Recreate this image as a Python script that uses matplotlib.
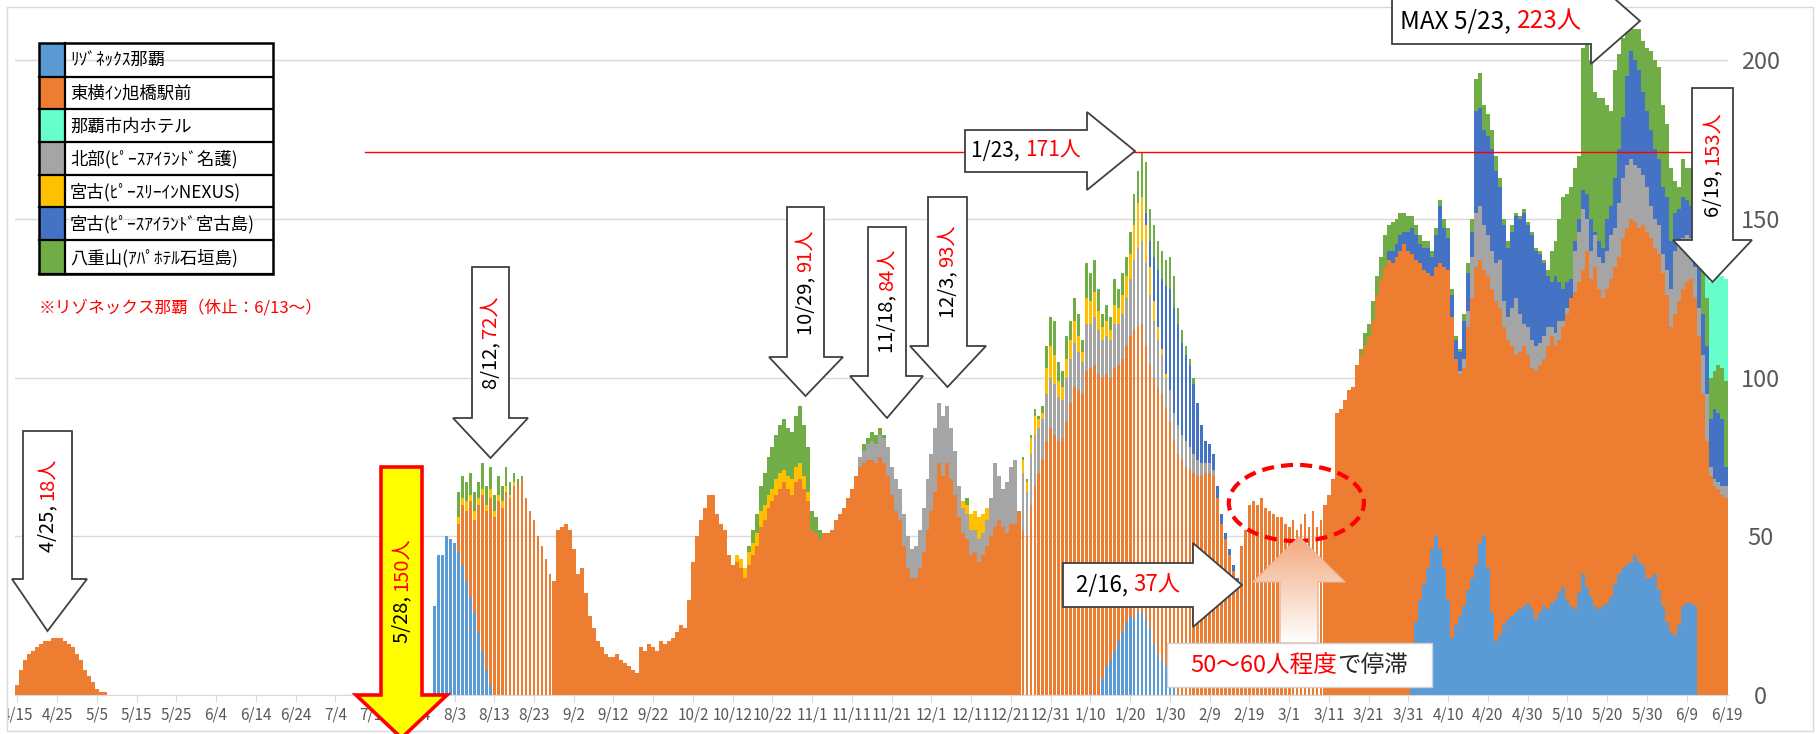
import numpy as np
import pandas as pd
import matplotlib
matplotlib.use("Agg")
import matplotlib.pyplot as plt
from matplotlib.patches import Polygon, Rectangle, Ellipse
from matplotlib.colors import LinearSegmentedColormap

plt.rcParams['font.family'] = ['Noto Sans CJK JP', 'DejaVu Sans']

# 日別 (2020/4/15 ～ 2021/6/19)
dates = pd.date_range("2020-04-15", "2021-06-19", freq="D")

# 各施設: (開始日, 日別の人数)
rizonex = [
    ("2020-07-29", [28, 44, 44, 50, 49, 48, 45, 41, 36, 31, 26, 20, 14, 8, 3]),
    ("2021-01-13", [5, 9, 11, 14, 17, 20, 23, 25, 24, 26, 26, 24, 21, 16, 13, 11, 9, 7, 3]),
    ("2021-04-01", [10, 23, 30, 35, 40, 46, 50, 46, 40, 30, 18, 22, 25, 28, 33, 37, 41, 48, 50, 40,
                    26, 17, 19, 22, 24, 25, 26, 27, 28, 29, 27, 24, 26, 28, 27, 29, 30, 32, 34, 30,
                    28, 27, 32, 38, 34, 31, 28, 27, 28, 29, 31, 35, 38, 40, 41, 42, 44, 42, 41, 37,
                    37, 38, 33, 28, 23, 20, 19, 22, 28, 29, 29, 28]),
]
toyoko = [
    ("2020-04-15", [3, 8, 11, 13, 14, 15, 16, 17, 17, 18, 18, 18, 17, 16, 15, 13, 11, 8, 6, 4, 2, 1, 1]),
    ("2020-08-04", [9, 19, 22, 30, 29, 40, 49, 50, 59, 56, 61, 59, 64, 62, 66, 66, 68, 62, 58, 55,
                    50, 47, 43, 38]),
    ("2020-08-28", [36, 52, 53, 54, 52, 46, 38, 40, 32, 25, 21, 17, 15, 13, 12, 12, 13, 11, 10, 9,
                    8, 7, 15, 14, 16, 15, 14, 17, 16, 17, 18, 20, 22, 21, 30]),
    ("2020-10-02", [42, 50, 55, 59, 63, 63, 57, 54, 52, 44, 41, 42, 40, 37, 41, 44, 47, 53, 55, 59,
                    61, 63, 65, 67, 65, 63, 67, 68, 65, 61]),
    ("2020-11-01", [52, 51, 49, 51, 51, 52, 55, 57, 59, 62, 65, 69, 72, 73, 74, 74, 73, 75, 73, 69,
                    63, 58, 55, 47, 40, 37, 37, 40, 45, 52, 58, 64, 73, 69, 73, 68, 63, 56, 51, 49,
                    44, 45, 42, 44, 47, 50, 53, 55, 53, 51, 54, 54, 58]),
    ("2020-12-24", [52, 50, 60, 66, 70, 74, 80, 84, 82, 80, 81, 86, 92, 97, 96, 95, 102, 103, 104, 101,
                    95, 92, 89, 89, 87, 86, 87, 88, 91, 90, 91, 86, 83, 84, 84, 84, 81, 79, 77, 76,
                    74, 72, 71, 70, 69, 69, 70, 70, 69, 62, 54, 49, 44, 39, 36]),
    ("2021-02-17", [47, 52, 60, 61, 60, 62, 59, 58, 57, 56, 56, 54, 53, 55, 52, 54, 57, 53, 58, 53,
                    55, 60, 63, 68]),
    ("2021-03-13", [89, 90, 93, 96, 97, 104, 107, 110, 113, 118, 126, 131, 135, 137, 136, 138, 140, 142, 140]),
    ("2021-04-01", [129, 114, 106, 99, 93, 86, 85, 90, 95, 104, 101, 84, 76, 75, 83, 88, 94, 89, 84, 92,
                    102, 107, 103, 94, 88, 85, 81, 81, 82, 78, 76, 78, 78, 78, 83, 84, 80, 80, 82, 90,
                    97, 100, 98, 96, 106, 100, 107, 101, 97, 99, 100, 100, 100, 104, 106, 108, 105, 105, 107, 109,
                    107, 103, 106, 105, 103, 96, 101, 102, 100, 101, 102, 97, 113, 95, 80, 69, 66, 65, 63, 62]),
]
naha_hotel = [("2021-06-14", [28, 30, 29, 28, 29, 32])]
hokubu = [
    ("2020-11-13", [3, 4, 5, 6, 6, 7, 8, 9, 9, 10, 10, 10, 10, 9, 10, 12, 14, 16, 18, 20,
                    19, 19, 18, 16, 14, 10, 8, 8, 8, 7, 7, 7, 8, 12, 20, 14, 12, 16, 18, 20]),
    ("2020-12-24", [18, 14, 16, 16, 14, 13, 15, 16, 16, 14, 12, 14, 14, 14, 12, 10, 15, 14, 15, 14,
                    12, 12, 12, 14, 13, 14, 15, 18, 22, 25, 26, 26, 22, 18, 15, 12, 10, 10, 9, 9,
                    8, 8, 7, 6, 5, 4, 3, 3, 2]),
    ("2021-04-11", [0, 0, 1, 3, 5, 13, 17, 17, 14, 13, 12, 12, 15, 8, 7, 12, 18, 12, 7, 9,
                    9, 8, 7, 7, 6, 3, 4, 6, 2, 2, 0, 13, 16, 19, 10, 9, 10, 10, 11, 12,
                    14, 12, 17, 19, 20, 19, 18, 19, 16, 14, 10, 9, 9, 6, 8, 12, 20, 18, 16, 15,
                    13, 10, 9, 12, 15, 3, 2, 2, 3, 4]),
]
miyako_nexus = [
    ("2020-08-04", [2, 2, 3, 2, 3, 2, 2, 2, 3, 2, 2, 2, 2, 1, 1]),
    ("2020-10-13", [2, 3, 3, 4, 4, 4, 5, 5, 4, 4, 5, 5, 4, 4, 5, 5, 5, 4, 3]),
    ("2020-12-09", [2, 3, 5, 6, 7, 6, 4]),
    ("2020-12-24", [4, 3, 5, 6, 3, 2, 8, 10, 9, 5, 4, 6, 6, 7, 5, 3, 8, 7, 8, 6,
                    4, 5, 3, 6, 5, 6, 7, 8, 11, 14, 14, 12, 9, 6, 4, 2, 1]),
]
miyako_island = [
    ("2021-01-24", [4, 8, 14, 18, 22, 28, 32, 33, 32, 29, 27, 26, 22, 18, 12, 7, 6, 5, 4, 3, 2, 2, 2, 1]),
    ("2021-03-26", [3, 4, 4, 5, 4, 6, 8, 8, 6, 7, 8, 6, 10, 18, 12, 10]),
    ("2021-04-11", [7, 6, 6, 12, 12, 8, 32, 31, 30, 31, 32, 29, 23, 24, 22, 24, 26, 30, 35, 32,
                    33, 30, 28, 23, 16, 14, 18, 12, 10, 8, 6, 3, 4, 6, 8, 10, 1, 5, 5, 10,
                    9, 16, 17, 19, 28, 34, 33, 31, 26, 24, 24, 22, 21, 21, 23, 15, 12, 11, 13, 11,
                    10, 10, 15, 13, 15, 15, 22, 22, 21, 6]),
]
yaeyama = [
    ("2020-08-04", [8, 7, 6, 7, 6, 5, 8, 6, 7, 5, 6, 5, 6, 4, 3, 2, 1]),
    ("2020-10-16", [2, 4, 6, 8, 10, 12, 13, 14, 15, 16, 15, 15, 16, 18, 16, 14, 6, 5, 3]),
    ("2020-11-14", [2, 2, 3, 3, 2, 1]),
    ("2020-12-10", [2]),
    ("2020-12-24", [1, 1, 1, 2, 1, 2, 7, 9, 11, 6, 5, 7, 6, 7, 7, 4, 11, 9, 10, 7,
                    4, 5, 4, 8, 6, 7, 6, 7, 10, 10, 14, 16, 10, 10, 9, 9, 8, 10, 10, 5,
                    4, 3, 2, 2]),
    ("2021-03-19", [2, 4, 4, 6, 6, 7, 10]),
    ("2021-03-26", [8, 9, 8, 7, 6, 5, 4, 3, 3, 2, 2, 2, 2, 2, 3, 3]),
    ("2021-04-11", [2, 1, 1, 2, 3, 4, 10, 11, 8, 7, 6, 5, 3, 2, 2, 2, 1, 1, 1, 1,
                    1, 1, 1, 1, 2, 10, 11, 20, 29, 28, 29, 23, 20, 45, 47, 50, 44, 45, 47, 36,
                    30, 34, 30, 25, 14, 8, 10, 13, 16, 20, 25, 28, 29, 26, 23, 23, 10, 7, 12, 10,
                    12, 15, 15, 15, 15, 13, 12, 15, 16, 27]),
]

legend_names = ["ﾘｿﾞﾈｯｸｽ那覇", "東横ｲﾝ旭橋駅前", "那覇市内ホテル", "北部(ﾋﾟｰｽｱｲﾗﾝﾄﾞ名護)",
                "宮古(ﾋﾟｰｽﾘｰｲﾝNEXUS)", "宮古(ﾋﾟｰｽｱｲﾗﾝﾄﾞ宮古島)", "八重山(ｱﾊﾟﾎﾃﾙ石垣島)"]
legend_colors = ["#5B9BD5", "#ED7D31", "#66FFCC", "#A5A5A5", "#FFC000", "#4472C4", "#70AD47"]

# 下から積む順
stack = [(rizonex, "#5B9BD5"), (toyoko, "#ED7D31"), (hokubu, "#A5A5A5"),
         (miyako_nexus, "#FFC000"), (miyako_island, "#4472C4"), (yaeyama, "#70AD47"),
         (naha_hotel, "#66FFCC")]


def daily(segments):
    out = np.zeros(len(dates))
    for start, vals in segments:
        i = (pd.Timestamp(start) - dates[0]).days
        out[i:i + len(vals)] = vals
    return out


W, H = 1816, 734
fig = plt.figure(figsize=(W / 100, H / 100), dpi=100)
ax = fig.add_axes([15.3 / W, 39 / H, 1713.1 / W, 695 / H])

x = np.arange(len(dates))
# 細く見える区間 (棒の間に白い隙間)
thin = ((dates >= "2020-07-29") & (dates <= "2020-08-27")) | \
       ((dates >= "2020-12-24") & (dates <= "2021-03-09"))
widths = np.where(thin, 0.66, 1.0)

bottom = np.zeros(len(dates))
for segs, col in stack:
    v = daily(segs)
    ax.bar(x, v, width=widths, bottom=bottom, color=col, linewidth=0, zorder=2)
    bottom += v

ax.set_xlim(-0.5, len(dates) - 0.5)
ax.set_ylim(0, 219)
ax.set_xticks(x[::10])
ax.set_xticklabels([f"{d.month}/{d.day}" for d in dates[::10]])
ax.set_yticks([0, 50, 100, 150, 200])
ax.yaxis.tick_right()
ax.yaxis.grid(True, color="#D9D9D9", lw=1)
ax.set_axisbelow(True)
for s in ["top", "left", "right"]:
    ax.spines[s].set_visible(False)
ax.spines["bottom"].set_color("#D9D9D9")
ax.tick_params(axis="x", length=5, color="#D9D9D9", labelsize=11, labelcolor="#595959", pad=3)
ax.tick_params(axis="y", length=0, labelsize=17, labelcolor="#595959", pad=23)
for lbl in ax.get_yticklabels():
    lbl.set_horizontalalignment("center")
ax.patch.set_alpha(0)

# 1/23 の 171人ライン
ax.axhline(171, xmin=88 / len(dates), xmax=1.0, color="#FF0000", lw=1, zorder=3)
# 停滞の楕円
ax.add_patch(Ellipse((321.8, 60.5), 34, 24, fill=False, ec="#FF0000", lw=3,
                     ls=(0, (2.9, 1.7)), zorder=5))

# 注記用 (ピクセル座標)
ov = fig.add_axes([0, 0, 1, 1])
ov.axis("off")
ov.add_patch(Rectangle((0, 0), 7, H, fc="white", ec="none", zorder=1))
ov.add_patch(Rectangle((7, 7), 1806, 724, fill=False, ec="#D9D9D9", lw=1, zorder=2))

RED = "#FF0000"
renderer = fig.canvas.get_renderer()


def parts_text(cx, cy, parts, size=14.5, rot=0):
    lens = []
    for s, c in parts:
        t = ov.text(0, 0, s, fontsize=size, rotation=rot)
        bb = t.get_window_extent(renderer)
        lens.append(bb.width if rot == 0 else bb.height)
        t.remove()
    total = sum(lens)
    if rot == 0:
        px = cx - total / 2
        for (s, c), L in zip(parts, lens):
            ov.text(px, cy, s, color=c, fontsize=size, ha="left", va="center", zorder=10)
            px += L
    else:
        py = cy + total / 2
        for (s, c), L in zip(parts, lens):
            ov.text(cx, py, s, color=c, fontsize=size, rotation=90, ha="center",
                    va="bottom", zorder=10)
            py -= L


def down_arrow(bx0, bx1, by0, by1, hx0, hx1, tip, fc="white", ec="#404040", lw=1.3):
    cx = (bx0 + bx1) / 2
    pts = [(bx0, by0), (bx1, by0), (bx1, by1), (hx1, by1), (cx, tip), (hx0, by1), (bx0, by1)]
    ov.add_patch(Polygon(pts, closed=True, fc=fc, ec=ec, lw=lw, zorder=8))


def right_arrow(bx0, bx1, by0, by1, hy0, hy1, tip, fc="white", ec="#404040", lw=1.3):
    cy = (by0 + by1) / 2
    pts = [(bx0, by0), (bx1, by0), (bx1, hy0), (tip, cy), (bx1, hy1), (bx1, by1), (bx0, by1)]
    ov.add_patch(Polygon(pts, closed=True, fc=fc, ec=ec, lw=lw, zorder=8))


down_arrow(23, 72, 431, 579, 12, 87, 631)
parts_text(47.5, 505, [("4/25, ", "black"), ("18人", RED)], rot=90)

down_arrow(381, 422, 467, 695, 356, 447, 738, fc="#FFFF00", ec=RED, lw=2.6)
parts_text(401.5, 590, [("5/28, ", "black"), ("150人", RED)], rot=90)

down_arrow(472, 509, 267, 418, 453, 528, 458)
parts_text(490.5, 342, [("8/12, ", "black"), ("72人", RED)], rot=90)

down_arrow(787, 824, 207, 357, 769, 843, 396)
parts_text(805.5, 282, [("10/29, ", "black"), ("91人", RED)], rot=90)

down_arrow(868, 906, 227, 376, 850, 923, 418)
parts_text(887, 301, [("11/18, ", "black"), ("84人", RED)], rot=90)

down_arrow(928, 967, 197, 346, 910, 986, 387)
parts_text(947.5, 271, [("12/3, ", "black"), ("93人", RED)], rot=90)

right_arrow(965, 1087, 130, 172, 112, 190, 1135)
parts_text(1026, 151, [("1/23, ", "black"), ("171人", RED)], size=15)

right_arrow(1063, 1193, 563, 607, 543, 627, 1242)
parts_text(1128, 585, [("2/16, ", "black"), ("37人", RED)], size=16)

right_arrow(1392, 1591, -2, 44, -22, 64, 1640)
parts_text(1491, 21, [("MAX 5/23, ", "black"), ("223人", RED)], size=17.5)

down_arrow(1692, 1733, 88, 240, 1673, 1752, 282)
parts_text(1712.5, 164, [("6/19, ", "black"), ("153人", RED)], rot=90)

# 停滞の上向き矢印 (グラデーション)
up = Polygon([(1280, 643), (1280, 582), (1253, 582), (1299, 537), (1345, 582),
              (1318, 582), (1318, 643)], closed=True, fc="none", ec="#E9B59A", lw=1, zorder=8)
ov.add_patch(up)
grad = np.linspace(0, 1, 100).reshape(-1, 1)
cmap = LinearSegmentedColormap.from_list("peach", ["#F2A97E", "#FFFFFF"])
im = ov.imshow(grad, cmap=cmap, extent=(1253, 1345, 643, 537), origin="upper",
               aspect="auto", zorder=7)
im.set_clip_path(up)
ov.add_patch(Rectangle((1167, 643), 265, 44, fc="white", ec="#D0D0D0", lw=1, zorder=8))
parts_text(1299.5, 665, [("50～60人程度", RED), ("で停滞", "#262626")], size=17)

# 凡例 (表)
rows = [43, 77, 109, 142, 175, 207, 240, 274]
for i, (name, col) in enumerate(zip(legend_names, legend_colors)):
    y0, y1 = rows[i], rows[i + 1]
    ov.add_patch(Rectangle((39, y0), 26, y1 - y0, fc=col, ec="none", zorder=8))
    ov.text(70, (y0 + y1) / 2 + 1, name, fontsize=12.5, ha="left", va="center", zorder=9)
    ov.plot([39, 273], [y1, y1], color="black", lw=1.6, zorder=9)
ov.add_patch(Rectangle((39, 43), 234, 231, fill=False, ec="black", lw=1.8, zorder=9))
ov.plot([65, 65], [43, 274], color="black", lw=1.6, zorder=9)
ov.text(39, 308, "※リゾネックス那覇（休止：6/13～）", color=RED, fontsize=12,
        ha="left", va="center")

ov.set_xlim(0, W)
ov.set_ylim(H, 0)

fig.savefig("out.png", dpi=100)
